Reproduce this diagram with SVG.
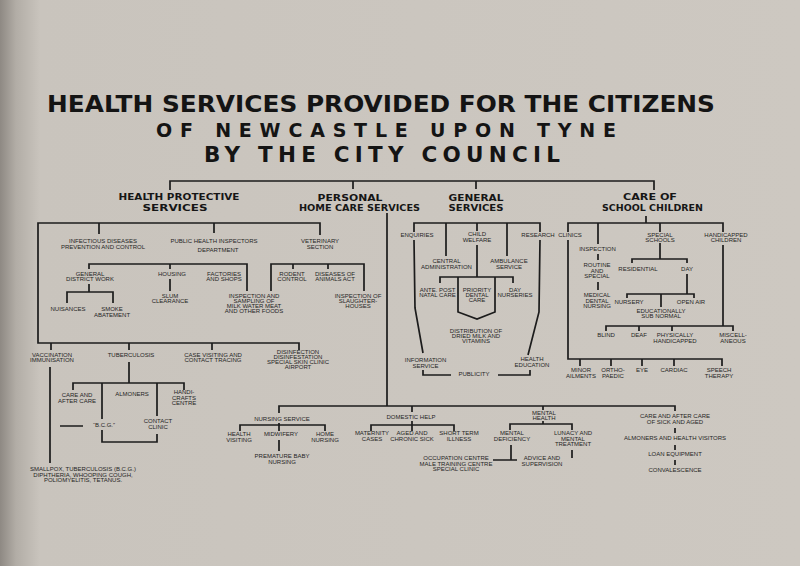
<svg xmlns="http://www.w3.org/2000/svg" width="800" height="566" viewBox="0 0 800 566">
<defs>
<linearGradient id="bg" x1="0" y1="0" x2="1" y2="0">
<stop offset="0" stop-color="#8e8983"/>
<stop offset="0.02" stop-color="#b2ada6"/>
<stop offset="0.05" stop-color="#c9c4bd"/>
<stop offset="1" stop-color="#cdc8c1"/>
</linearGradient>
<style>
.s{font-family:"Liberation Sans",Arial,sans-serif;font-size:6px;fill:#1f1f1f;text-anchor:middle}
.h{font-family:"DejaVu Sans","Liberation Sans",sans-serif;font-weight:bold;font-size:9.4px;fill:#161616;text-anchor:middle}
.ti{font-family:"DejaVu Sans","Liberation Sans",sans-serif;font-weight:bold;fill:#141414}
.c{fill:none;stroke:#1c1c1c;stroke-width:1.7;stroke-linejoin:miter;stroke-linecap:butt}
</style>
</defs>
<rect width="800" height="566" fill="url(#bg)"/>

<g id="title">
<text class="ti" x="47" y="112" font-size="23" textLength="668" lengthAdjust="spacingAndGlyphs">HEALTH SERVICES PROVIDED FOR THE CITIZENS</text>
<text class="ti" x="156" y="137" font-size="19" textLength="460" lengthAdjust="spacing">OF NEWCASTLE UPON TYNE</text>
<text class="ti" x="204" y="162" font-size="21.5" textLength="356" lengthAdjust="spacing">BY THE CITY COUNCIL</text>
</g>

<g id="connectors">
<path class="c" d="M170,190 V181 H654 V190 M353,181 V189 M476,181 V189"/>
<path class="c" d="M320,235 V223 H38 V343 H299 V350 M99,223 V234 M214,223 V233 M51,343 V350 M129,343 V350 M212,343 V350"/>
<path class="c" d="M89,269 V264 H247 V291 M170,264 V269 M89,284 V292 M67,303 V292 H113 V303 M170,279 V291"/>
<path class="c" d="M271,291 V264 H364 V291 M293,264 V269 M328,264 V269"/>
<path class="c" d="M50,367 V463 M129,362 V383 M73,390 V383 H184 V390 M102,383 V419 M102,430 V442 H157 V434 M157,383 V416 M60,426 H83"/>
<path class="c" d="M387,213 V406 M279,413 V406 H675 V411 M412,406 V412 M543,406 V410"/>
<path class="c" d="M240,431 V425 H325 V431 M279,423 V431 M279,440 V451"/>
<path class="c" d="M371,431 V425 H454 V431 M412,421 V431"/>
<path class="c" d="M510,430 V424 H572 V430 M543,421 V424 M511,445 V460 M493,460 H517 M572,450 V458"/>
<path class="c" d="M675,428 V433 M675,445 V450 M675,460 V465"/>
<path class="c" d="M414,232 V223 H540 V232 M446,223 V256 M477,223 V231 M507,223 V256"/>
<path class="c" d="M414,240 L415,308 L423,353 M540,240 L539,312 L528,355"/>
<path class="c" d="M477,245 V277 M440,283 V277 H513 V283 M458,277 V312 L477,319 L495,312 V277"/>
<path class="c" d="M423,370 V375 H451 M498,375 H530 V370"/>
<path class="c" d="M568,232 V223 H723 V232 M646,216 V223 M598,223 V244 M660,223 V232"/>
<path class="c" d="M568,240 V359 H722 V366 M580,359 V366 M611,359 V366 M642,359 V366 M674,359 V366"/>
<path class="c" d="M598,254 V260 M598,282 V290"/>
<path class="c" d="M660,243 V259 M632,263 V259 H687 V263 M687,274 V294 M627,298 V294 H694 V298 M661,294 V307"/>
<path class="c" d="M723,245 V326 M606,331 V326 H733 V331 M639,326 V331 M672,326 V331"/>
</g>

<g id="hdr-health-protective"><text class="h" x="179" y="200" textLength="121" lengthAdjust="spacingAndGlyphs">HEALTH PROTECTIVE</text><text class="h" x="175" y="210.5" textLength="65" lengthAdjust="spacingAndGlyphs">SERVICES</text></g>
<g id="hdr-personal"><text class="h" x="350" y="200.5" textLength="65" lengthAdjust="spacingAndGlyphs">PERSONAL</text><text class="h" x="359.5" y="211" textLength="121" lengthAdjust="spacingAndGlyphs">HOME CARE SERVICES</text></g>
<g id="hdr-general"><text class="h" x="476" y="200.5" textLength="55" lengthAdjust="spacingAndGlyphs">GENERAL</text><text class="h" x="476" y="211" textLength="55" lengthAdjust="spacingAndGlyphs">SERVICES</text></g>
<g id="hdr-school"><text class="h" x="650" y="200" textLength="54" lengthAdjust="spacingAndGlyphs">CARE OF</text><text class="h" x="652.5" y="210.5" textLength="101" lengthAdjust="spacingAndGlyphs">SCHOOL CHILDREN</text></g>

<g id="infectious"><text class="s" x="103" y="243">INFECTIOUS DISEASES</text><text class="s" x="103" y="248.5">PREVENTION AND CONTROL</text></g>
<g id="phi"><text class="s" x="214" y="243">PUBLIC HEALTH INSPECTORS</text><text class="s" x="218" y="252">DEPARTMENT</text></g>
<g id="veterinary"><text class="s" x="320" y="243">VETERINARY</text><text class="s" x="320" y="248.5">SECTION</text></g>
<g id="general-district"><text class="s" x="90" y="276">GENERAL</text><text class="s" x="90" y="281">DISTRICT WORK</text></g>
<g id="housing"><text class="s" x="172" y="276">HOUSING</text></g>
<g id="factories"><text class="s" x="224" y="276">FACTORIES</text><text class="s" x="224" y="281">AND SHOPS</text></g>
<g id="rodent"><text class="s" x="292" y="276">RODENT</text><text class="s" x="292" y="281">CONTROL</text></g>
<g id="diseases-animals"><text class="s" x="335" y="276">DISEASES OF</text><text class="s" x="335" y="281">ANIMALS ACT</text></g>
<g id="nuisances"><text class="s" x="68" y="311">NUISANCES</text></g>
<g id="smoke"><text class="s" x="112" y="311">SMOKE</text><text class="s" x="112" y="316.5">ABATEMENT</text></g>
<g id="slum"><text class="s" x="170" y="298">SLUM</text><text class="s" x="170" y="303">CLEARANCE</text></g>
<g id="inspection-sampling"><text class="s" x="254" y="298">INSPECTION AND</text><text class="s" x="254" y="303">SAMPLING OF</text><text class="s" x="254" y="308">MILK WATER MEAT</text><text class="s" x="254" y="313">AND OTHER FOODS</text></g>
<g id="slaughter"><text class="s" x="358" y="298">INSPECTION OF</text><text class="s" x="358" y="303">SLAUGHTER-</text><text class="s" x="358" y="308">HOUSES</text></g>
<g id="vaccination"><text class="s" x="52" y="357">VACCINATION</text><text class="s" x="52" y="362">IMMUNISATION</text></g>
<g id="tuberculosis"><text class="s" x="131" y="357">TUBERCULOSIS</text></g>
<g id="case-visiting"><text class="s" x="213" y="357">CASE VISITING AND</text><text class="s" x="213" y="362">CONTACT TRACING</text></g>
<g id="disinfection"><text class="s" x="298" y="354">DISINFECTION</text><text class="s" x="298" y="359">DISINFESTATION</text><text class="s" x="298" y="364">SPECIAL SKIN CLINIC</text><text class="s" x="298" y="369">AIRPORT</text></g>
<g id="care-after"><text class="s" x="77" y="397">CARE AND</text><text class="s" x="77" y="403">AFTER CARE</text></g>
<g id="almoners"><text class="s" x="132" y="396">ALMONERS</text></g>
<g id="handicrafts"><text class="s" x="184" y="394">HANDI-</text><text class="s" x="184" y="399.5">CRAFTS</text><text class="s" x="184" y="405">CENTRE</text></g>
<g id="bcg"><text class="s" x="104" y="427">“B.C.G.”</text></g>
<g id="contact-clinic"><text class="s" x="158" y="423">CONTACT</text><text class="s" x="158" y="429">CLINIC</text></g>
<g id="smallpox"><text class="s" x="83" y="471">SMALLPOX, TUBERCULOSIS (B.C.G.)</text><text class="s" x="83" y="476.5">DIPHTHERIA, WHOOPING COUGH,</text><text class="s" x="83" y="482">POLIOMYELITIS, TETANUS.</text></g>

<g id="nursing-service"><text class="s" x="282" y="421">NURSING SERVICE</text></g>
<g id="health-visiting"><text class="s" x="239" y="436">HEALTH</text><text class="s" x="239" y="442">VISITING</text></g>
<g id="midwifery"><text class="s" x="281" y="436">MIDWIFERY</text></g>
<g id="home-nursing"><text class="s" x="325" y="436">HOME</text><text class="s" x="325" y="442">NURSING</text></g>
<g id="premature"><text class="s" x="282" y="458">PREMATURE BABY</text><text class="s" x="282" y="463.5">NURSING</text></g>
<g id="domestic-help"><text class="s" x="411" y="419">DOMESTIC HELP</text></g>
<g id="maternity"><text class="s" x="372" y="435">MATERNITY</text><text class="s" x="372" y="441">CASES</text></g>
<g id="aged"><text class="s" x="412" y="435">AGED AND</text><text class="s" x="412" y="441">CHRONIC SICK</text></g>
<g id="short-term"><text class="s" x="459" y="435">SHORT TERM</text><text class="s" x="459" y="441">ILLNESS</text></g>
<g id="mental-health"><text class="s" x="544" y="415">MENTAL</text><text class="s" x="544" y="420">HEALTH</text></g>
<g id="mental-deficiency"><text class="s" x="512" y="435">MENTAL</text><text class="s" x="512" y="440.5">DEFICIENCY</text></g>
<g id="lunacy"><text class="s" x="573" y="435">LUNACY AND</text><text class="s" x="573" y="440.5">MENTAL</text><text class="s" x="573" y="446">TREATMENT</text></g>
<g id="occupation"><text class="s" x="456" y="460">OCCUPATION CENTRE</text><text class="s" x="456" y="465.5">MALE TRAINING CENTRE</text><text class="s" x="456" y="471">SPECIAL CLINIC</text></g>
<g id="advice"><text class="s" x="542" y="460">ADVICE AND</text><text class="s" x="542" y="465.5">SUPERVISION</text></g>
<g id="care-sick"><text class="s" x="675" y="418">CARE AND AFTER CARE</text><text class="s" x="675" y="424">OF SICK AND AGED</text></g>
<g id="almoners-hv"><text class="s" x="675" y="440">ALMONERS AND HEALTH VISITORS</text></g>
<g id="loan"><text class="s" x="675" y="456">LOAN EQUIPMENT</text></g>
<g id="convalescence"><text class="s" x="675" y="472">CONVALESCENCE</text></g>

<g id="enquiries"><text class="s" x="417" y="237">ENQUIRIES</text></g>
<g id="child-welfare"><text class="s" x="477" y="236">CHILD</text><text class="s" x="477" y="242">WELFARE</text></g>
<g id="research"><text class="s" x="538" y="237">RESEARCH</text></g>
<g id="central-admin"><text class="s" x="446.5" y="263">CENTRAL</text><text class="s" x="446.5" y="268.5">ADMINISTRATION</text></g>
<g id="ambulance"><text class="s" x="509" y="263">AMBULANCE</text><text class="s" x="509" y="268.5">SERVICE</text></g>
<g id="ante-post"><text class="s" x="437.5" y="292">ANTE. POST</text><text class="s" x="437.5" y="297">NATAL CARE</text></g>
<g id="priority-dental"><text class="s" x="477" y="292">PRIORITY</text><text class="s" x="477" y="297">DENTAL</text><text class="s" x="477" y="302">CARE</text></g>
<g id="day-nurseries"><text class="s" x="515" y="292">DAY</text><text class="s" x="515" y="297">NURSERIES</text></g>
<g id="distribution"><text class="s" x="476" y="333">DISTRIBUTION OF</text><text class="s" x="476" y="338">DRIED MILK AND</text><text class="s" x="476" y="343">VITAMINS</text></g>
<g id="information"><text class="s" x="425.5" y="362">INFORMATION</text><text class="s" x="425.5" y="368">SERVICE</text></g>
<g id="health-education"><text class="s" x="532" y="361">HEALTH</text><text class="s" x="532" y="367">EDUCATION</text></g>
<g id="publicity"><text class="s" x="474" y="376">PUBLICITY</text></g>

<g id="clinics"><text class="s" x="570" y="237">CLINICS</text></g>
<g id="inspection"><text class="s" x="597.5" y="251">INSPECTION</text></g>
<g id="routine"><text class="s" x="597" y="267">ROUTINE</text><text class="s" x="597" y="272.5">AND</text><text class="s" x="597" y="278">SPECIAL</text></g>
<g id="medical"><text class="s" x="597" y="297">MEDICAL</text><text class="s" x="597" y="302.5">DENTAL</text><text class="s" x="597" y="308">NURSING</text></g>
<g id="special-schools"><text class="s" x="660" y="237">SPECIAL</text><text class="s" x="660" y="242">SCHOOLS</text></g>
<g id="handicapped-children"><text class="s" x="726" y="237">HANDICAPPED</text><text class="s" x="726" y="242">CHILDREN</text></g>
<g id="residential"><text class="s" x="638" y="271">RESIDENTIAL</text></g>
<g id="day"><text class="s" x="687" y="271">DAY</text></g>
<g id="nursery"><text class="s" x="629" y="304">NURSERY</text></g>
<g id="open-air"><text class="s" x="691" y="304">OPEN AIR</text></g>
<g id="esn"><text class="s" x="661" y="313">EDUCATIONALLY</text><text class="s" x="661" y="318">SUB NORMAL</text></g>
<g id="blind"><text class="s" x="606" y="337">BLIND</text></g>
<g id="deaf"><text class="s" x="639" y="337">DEAF</text></g>
<g id="physically"><text class="s" x="675" y="337">PHYSICALLY</text><text class="s" x="675" y="342.5">HANDICAPPED</text></g>
<g id="miscellaneous"><text class="s" x="733" y="337">MISCELL-</text><text class="s" x="733" y="342.5">ANEOUS</text></g>
<g id="minor"><text class="s" x="581" y="372">MINOR</text><text class="s" x="581" y="377.5">AILMENTS</text></g>
<g id="ortho"><text class="s" x="613" y="372">ORTHO-</text><text class="s" x="613" y="377.5">PAEDIC</text></g>
<g id="eye"><text class="s" x="642" y="372">EYE</text></g>
<g id="cardiac"><text class="s" x="674" y="372">CARDIAC</text></g>
<g id="speech"><text class="s" x="719" y="372">SPEECH</text><text class="s" x="719" y="377.5">THERAPY</text></g>
</svg>
